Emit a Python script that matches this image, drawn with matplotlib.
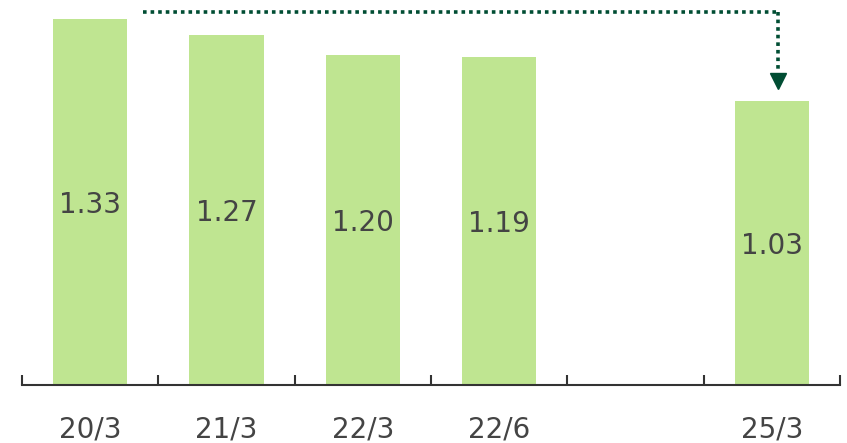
import numpy as np
import matplotlib
matplotlib.use("Agg")
import matplotlib.pyplot as plt
from matplotlib.ticker import FixedLocator

plt.rcParams['font.family'] = ['DejaVu Sans']

periods = ["20/3", "21/3", "22/3", "22/6", "", "25/3"]
values = [1.33, 1.27, 1.20, 1.19, np.nan, 1.03]

bar_color = "#bfe591"
text_color = "#444444"
arrow_color = "#004d33"

fig = plt.figure(figsize=(8.47, 4.43), dpi=100)
ax = fig.add_axes([22 / 847, 58 / 443, 818 / 847, 380 / 443])

x = np.arange(len(periods))
ax.bar(x, values, width=0.545, color=bar_color)
for xi, v in zip(x, values):
    if not np.isnan(v):
        ax.text(xi, v / 2 - 0.01, f"{v:.2f}", ha="center", va="center",
                fontsize=20, color=text_color)

ax.set_xlim(-0.5, len(periods) - 0.5)
ax.set_ylim(0, 1.38)

ax.set_xticks(x)
ax.set_xticklabels(periods, fontsize=20, color=text_color)
ax.xaxis.set_minor_locator(FixedLocator(np.arange(-0.5, len(periods), 1)))
ax.tick_params(axis="x", which="major", length=0, pad=22)
ax.tick_params(axis="x", which="minor", length=7, width=1.5, direction="in",
               color="#333333")
ax.set_yticks([])
for s in ["top", "right", "left"]:
    ax.spines[s].set_visible(False)
ax.spines["bottom"].set_color("#333333")
ax.spines["bottom"].set_linewidth(1.5)

# dotted arrow from first bar to last bar
y_top = 1.354
ax.plot([0.39, 5.045], [y_top, y_top], color=arrow_color, lw=2.6,
        linestyle=(0, (1, 1.1)), dash_capstyle="butt", clip_on=False)
ax.plot([5.045, 5.045], [y_top, 1.135], color=arrow_color, lw=2.6,
        linestyle=(0, (1, 1.1)), dash_capstyle="butt", clip_on=False)
ax.plot([5.045], [1.105], marker="v", markersize=12, color=arrow_color,
        clip_on=False)

fig.savefig("out.png", dpi=100)
